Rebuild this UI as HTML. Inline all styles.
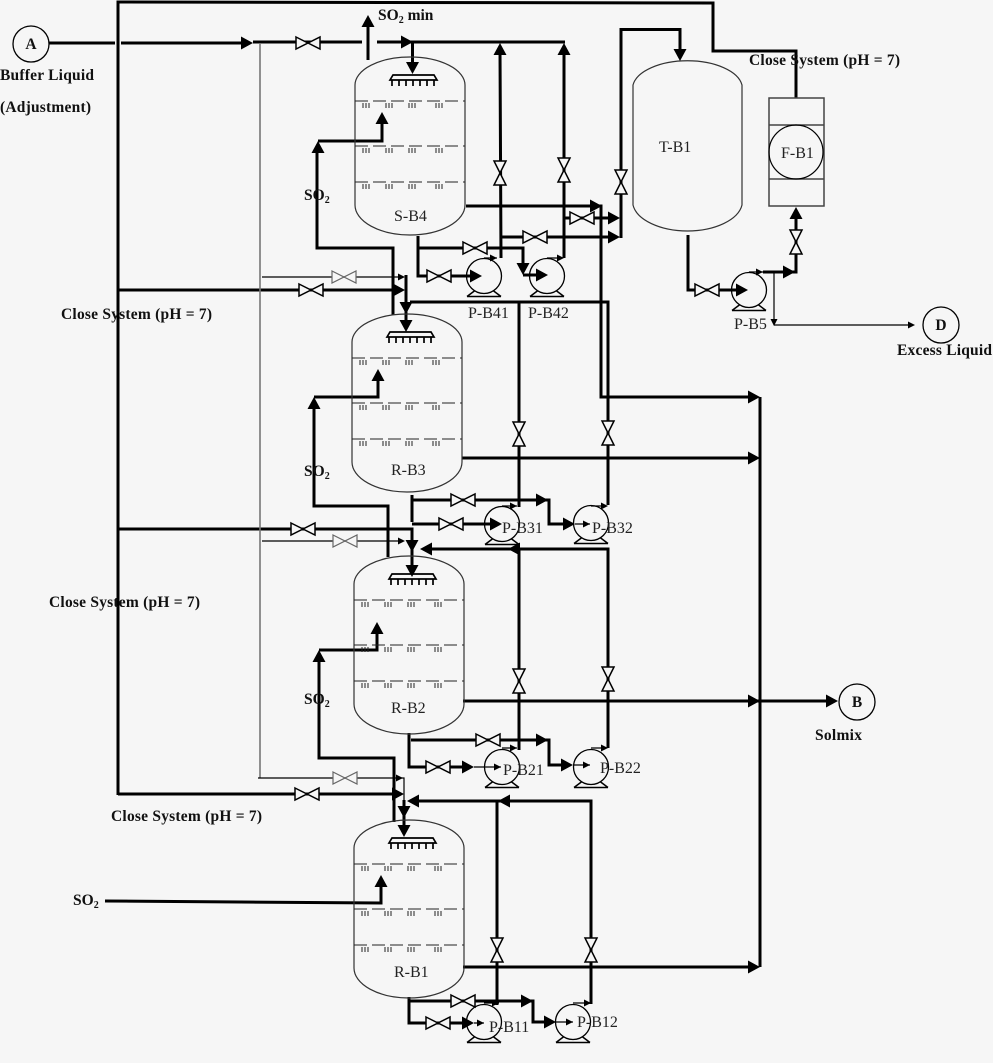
<!DOCTYPE html>
<html>
<head>
<meta charset="utf-8">
<title>Process diagram</title>
<style>
html,body{margin:0;padding:0;background:#f6f6f6}
svg{display:block;filter:blur(.35px)}
.t{fill:none;stroke:#000;stroke-width:3;stroke-linejoin:miter}
.n{fill:none;stroke:#000;stroke-width:1.2}
.g{fill:none;stroke:#777;stroke-width:1.6}
.b{font:bold 15.500px "Liberation Serif",serif;fill:#111}
.r{font:16px "Liberation Serif",serif;fill:#222}
.s{font:bold 10px "Liberation Serif",serif;fill:#111}
</style>
</head>
<body>
<svg width="993" height="1063" viewBox="0 0 993 1063" xmlns="http://www.w3.org/2000/svg">
<defs>
<polygon id="a" points="-12,-6.500 0,0 -12,6.500" fill="#000"/>
<polygon id="m" points="-7,-3.500 0,0 -7,3.500" fill="#000"/>
<path id="v" d="M-12,-6 L12,6 L12,-6 L-12,6 Z" fill="#f6f6f6" stroke="#000" stroke-width="1.5"/>
<path id="w" d="M-12,-6 L12,6 L12,-6 L-12,6 Z" fill="#f6f6f6" stroke="#666" stroke-width="1.2"/>
<g id="p" fill="none" stroke="#000" stroke-width="1.3">
<circle r="17.500"/>
<path d="M-17,20.500 H17 M-17,20.500 L-9,14.500 M17,20.500 L9,14.500" stroke-width="1.500"/>
</g>
<path id="k" d="M1,2 v5 M4,2 v5 M7,2 v5" fill="none" stroke="#222" stroke-width="1"/>
<g id="y">
<use href="#k" x="7"/><use href="#k" x="30"/><use href="#k" x="53"/><use href="#k" x="80"/>
<path d="M0,0 H110" fill="none" stroke="#222" stroke-width="1" stroke-dasharray="13 5"/>
</g>
<g id="e">
<path d="M0,28 A55,28 0 0 1 110,28 V148 A55,30 0 0 1 0,148 Z" fill="none" stroke="#333" stroke-width="1.200"/>
<use href="#y" y="44"/><use href="#y" y="89"/><use href="#y" y="125"/>
<path d="M35,23 L38,18 H79 L82,23 Z M37,23 V29 M44,23 V29 M51,23 V29 M58,23 V29 M65,23 V29 M72,23 V29 M79,23 V29" fill="none" stroke="#000" stroke-width="1.700"/>
</g>
</defs>
<rect width="993" height="1063" fill="#f6f6f6"/>

<!-- Close system main -->
<path class="t" d="M118,795 V2 L713,3 V51 H796 V98"/>
<path class="t" d="M118,290 H395 M118,529 H412 V565 M118,794 H395"/>
<path class="t" d="M49,43 H115 M121,43 H245"/>
<path class="t" d="M253,42 H362 M377,42 H565 M412.500,42 V65"/>
<path class="g" d="M260,43 V778"/>
<path class="n" d="M262,277 H398 M262,541 H400 M258,778 H404 V800"/>
<path class="t" d="M368,60 V25"/>

<!-- S-B4 recycle -->
<path class="t" d="M500,50 L501,258 M564,50 V258"/>
<path class="t" d="M466,206 H601 V397 H752"/>
<path class="t" d="M564,218 H610 M501,237 H610 M621,238 V29.500 H680 V52"/>
<path class="t" d="M418,236 V276 H470 M418,248 H523 V265 M523,275 H537"/>
<path class="n" d="M484,258 H497 M547,258 H562"/>

<!-- SO2 lines -->
<path class="t" d="M317,150 V248 H393 V315 M318,141 H382 V122"/>
<path class="t" d="M314,408 V506 H388 V557 M314,397 H378 V379"/>
<path class="t" d="M319,660 V758 H394 V822 M319,650 H377 V632"/>
<path class="t" d="M105,901 L381,903 V885"/>

<!-- R-B3 inlet and recycle -->
<path class="t" d="M406,275 V325 M410,302 H608 V505 M519,302 V507"/>
<path class="t" d="M462,458 H750"/>
<path class="t" d="M412,495 V522 M412,500 H549 V524 H565 M412,524 H490"/>
<path class="n" d="M575,524 H590 M502,506 H517 M591,506 H606"/>
<path class="t" d="M425,549 H608 V748 M519,549 V750"/>

<!-- R-B2 -->
<path class="t" d="M463,701 H830"/>
<path class="t" d="M409,733 V767 H466 M411,740 H549 V765 H565"/>
<path class="n" d="M474,767 H501 M573,765 H590 M502,748 H517 M591,748 H606"/>

<!-- R-B1 inlet and recycle -->
<path class="t" d="M404,800 V830 M412,801 H591 V1004 M497,801 V1005"/>
<path class="t" d="M463,967 H752"/>
<path class="t" d="M409,997 V1023 H466 M409,1001 H533 V1022 H548"/>
<path class="n" d="M474,1023 H484 M556,1022 H573 M484,1003 H499 M573,1003 H589"/>

<!-- Collector -->
<path class="t" d="M760,397 V967"/>

<!-- T-B1 outlet, P-B5 and filter -->
<path class="t" d="M688,235 V290 H740 M763,272 H796 V215"/>
<path class="n" d="M749,272 H763 M774,273 V322 M774,325 H908"/>

<!-- Vessels -->
<use href="#e" x="355" y="57"/>
<use href="#e" x="352" y="314"/>
<use href="#e" x="354" y="556"/>
<use href="#e" x="354" y="820"/>
<path d="M633,85 A55,28 0 0 1 742,85 V205 A55,30 0 0 1 633,205 Z" fill="none" stroke="#333" stroke-width="1.200"/>
<g fill="none" stroke="#444" stroke-width="1.500">
<rect x="769" y="98" width="55" height="108"/>
<path d="M769,125 H824 M769,179 H824"/>
<circle cx="796" cy="152" r="27" stroke="#000" stroke-width="1.200"/>
</g>

<!-- Terminals -->
<g fill="none" stroke="#000" stroke-width="1.300">
<circle cx="31" cy="44" r="18"/>
<circle cx="857" cy="702" r="18"/>
<circle cx="941" cy="325" r="18"/>
</g>

<!-- Pumps -->
<use href="#p" x="484" y="276"/><use href="#p" x="547" y="276"/>
<use href="#p" x="502" y="524"/><use href="#p" x="591" y="523"/>
<use href="#p" x="502" y="767"/><use href="#p" x="591" y="767"/>
<use href="#p" x="484" y="1022"/><use href="#p" x="573" y="1022"/>
<use href="#p" x="749" y="290"/>

<!-- Valves -->
<use href="#v" x="308" y="43"/>
<use href="#v" x="311" y="290"/>
<use href="#w" x="344" y="277"/>
<use href="#v" x="303" y="529"/>
<use href="#w" x="345" y="541"/>
<use href="#v" x="307" y="794"/>
<use href="#w" x="345" y="778"/>
<use href="#v" x="475" y="248"/>
<use href="#v" x="439" y="276"/>
<use href="#v" x="582" y="218"/>
<use href="#v" x="535" y="237"/>
<use href="#v" x="463" y="500"/>
<use href="#v" x="451" y="524"/>
<use href="#v" x="488" y="740"/>
<use href="#v" x="438" y="767"/>
<use href="#v" x="463" y="1001"/>
<use href="#v" x="438" y="1023"/>
<use href="#v" x="707" y="290"/>
<use href="#v" transform="translate(500,173) rotate(90)"/>
<use href="#v" transform="translate(564,170) rotate(90)"/>
<use href="#v" transform="translate(621,182) rotate(90)"/>
<use href="#v" transform="translate(519,434) rotate(90)"/>
<use href="#v" transform="translate(608,433) rotate(90)"/>
<use href="#v" transform="translate(519,681) rotate(90)"/>
<use href="#v" transform="translate(608,679) rotate(90)"/>
<use href="#v" transform="translate(497,950) rotate(90)"/>
<use href="#v" transform="translate(591,950) rotate(90)"/>
<use href="#v" transform="translate(796,242) rotate(90)"/>

<!-- Arrowheads -->
<use href="#a" x="253" y="43"/>
<use href="#a" x="413" y="42"/>
<use href="#a" transform="translate(412.500,74) rotate(90)"/>
<use href="#a" transform="translate(368,15) rotate(-90)"/>
<use href="#a" transform="translate(500,43) rotate(-90)"/>
<use href="#a" transform="translate(564,43) rotate(-90)"/>
<use href="#a" x="602" y="206"/>
<use href="#a" x="620" y="218"/>
<use href="#a" x="620" y="237"/>
<use href="#a" transform="translate(680,61) rotate(90)"/>
<use href="#a" x="482" y="276"/>
<use href="#a" transform="translate(523,275) rotate(90)"/>
<use href="#a" x="548" y="275"/>
<use href="#m" x="497" y="258"/>
<use href="#m" x="564" y="258"/>
<use href="#a" transform="translate(318,141) rotate(-90)"/>
<use href="#a" transform="translate(382,112) rotate(-90)"/>
<use href="#a" transform="translate(314,397) rotate(-90)"/>
<use href="#a" transform="translate(378,369) rotate(-90)"/>
<use href="#a" transform="translate(319,650) rotate(-90)"/>
<use href="#a" transform="translate(377,622) rotate(-90)"/>
<use href="#a" transform="translate(381,875) rotate(-90)"/>
<use href="#a" x="405" y="290"/>
<use href="#m" x="405" y="277"/>
<use href="#a" transform="translate(406,314) rotate(90)"/>
<use href="#a" transform="translate(406,332) rotate(90)"/>
<use href="#a" x="760" y="397"/>
<use href="#a" x="760" y="458"/>
<use href="#a" x="760" y="701"/>
<use href="#a" x="760" y="967"/>
<use href="#a" x="838" y="701"/>
<use href="#a" x="548" y="500"/>
<use href="#a" x="502" y="524"/>
<use href="#a" x="575" y="524"/>
<use href="#m" x="590" y="524"/>
<use href="#m" x="517" y="506"/>
<use href="#m" x="608" y="506"/>
<use href="#m" x="405" y="541"/>
<use href="#a" transform="translate(412,552) rotate(90)"/>
<use href="#a" transform="translate(412,577) rotate(90)"/>
<use href="#a" transform="translate(420,549) rotate(180)"/>
<use href="#a" transform="translate(508,549) rotate(180)"/>
<use href="#a" x="548" y="740"/>
<use href="#a" x="573" y="765"/>
<use href="#a" x="474" y="767"/>
<use href="#m" x="590" y="765"/>
<use href="#m" x="501" y="767"/>
<use href="#m" x="517" y="748"/>
<use href="#m" x="608" y="748"/>
<use href="#m" transform="translate(403,778)"/>
<use href="#a" x="404" y="794"/>
<use href="#a" transform="translate(404,818) rotate(90)"/>
<use href="#a" transform="translate(404,837) rotate(90)"/>
<use href="#a" transform="translate(407,801) rotate(180)"/>
<use href="#a" transform="translate(498,801) rotate(180)"/>
<use href="#a" x="533" y="1001"/>
<use href="#a" x="556" y="1022"/>
<use href="#a" x="474" y="1023"/>
<use href="#m" x="484" y="1023"/>
<use href="#m" x="573" y="1022"/>
<use href="#m" x="499" y="1003"/>
<use href="#m" x="591" y="1003"/>
<use href="#a" x="748" y="290"/>
<use href="#a" x="795" y="272"/>
<use href="#m" x="763" y="272"/>
<use href="#a" transform="translate(796,207) rotate(-90)"/>
<use href="#m" transform="translate(774,326) rotate(90)"/>
<use href="#m" x="915" y="325"/>

<!-- Bold labels -->
<text class="b" x="31" y="49" text-anchor="middle">A</text>
<text class="b" x="857" y="707" text-anchor="middle">B</text>
<text class="b" x="941" y="330" text-anchor="middle">D</text>
<text class="b" x="0" y="80" textLength="94">Buffer Liquid</text>
<text class="b" x="0" y="112" textLength="91">(Adjustment)</text>
<text class="b" x="378" y="20">SO<tspan class="s" dy="3">2</tspan><tspan dy="-3"> min</tspan></text>
<text class="b" x="749" y="65" textLength="151">Close System (pH = 7)</text>
<text class="b" x="61" y="319" textLength="151">Close System (pH = 7)</text>
<text class="b" x="49" y="607" textLength="151">Close System (pH = 7)</text>
<text class="b" x="111" y="821" textLength="151">Close System (pH = 7)</text>
<text class="b" x="897" y="355" textLength="95">Excess Liquid</text>
<text class="b" x="815" y="740" textLength="47">Solmix</text>
<text class="b" x="304" y="200">SO<tspan class="s" dy="3">2</tspan></text>
<text class="b" x="304" y="476">SO<tspan class="s" dy="3">2</tspan></text>
<text class="b" x="304" y="704">SO<tspan class="s" dy="3">2</tspan></text>
<text class="b" x="73" y="905">SO<tspan class="s" dy="3">2</tspan></text>

<!-- Equipment labels -->
<text class="r" x="394" y="221">S-B4</text>
<text class="r" x="391" y="475">R-B3</text>
<text class="r" x="391" y="713">R-B2</text>
<text class="r" x="394" y="977">R-B1</text>
<text class="r" x="659" y="152">T-B1</text>
<text class="r" x="781" y="158">F-B1</text>
<text class="r" x="468" y="318">P-B41</text>
<text class="r" x="528" y="318">P-B42</text>
<text class="r" x="502" y="533">P-B31</text>
<text class="r" x="592" y="533">P-B32</text>
<text class="r" x="503" y="775">P-B21</text>
<text class="r" x="600" y="773">P-B22</text>
<text class="r" x="489" y="1032">P-B11</text>
<text class="r" x="577" y="1027">P-B12</text>
<text class="r" x="734" y="329">P-B5</text>
</svg>
</body>
</html>
